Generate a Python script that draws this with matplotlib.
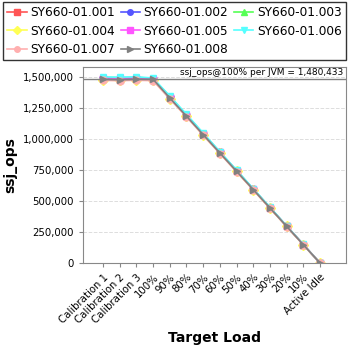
import numpy as np
import matplotlib.pyplot as plt
from matplotlib.ticker import FuncFormatter

categories = ["Calibration 1", "Calibration 2", "Calibration 3", "100%", "90%", "80%",
              "70%", "60%", "50%", "40%", "30%", "20%", "10%", "Active Idle"]

series_names = ["SY660-01.001", "SY660-01.002", "SY660-01.003", "SY660-01.004",
                "SY660-01.005", "SY660-01.006", "SY660-01.007", "SY660-01.008"]

s001 = [1481000, 1479000, 1482000, 1478000, 1331000, 1186000, 1036000, 888000, 741000, 592000, 444000, 296000, 148000, 0]
s002 = [1489000, 1487000, 1490000, 1483000, 1337000, 1190000, 1040000, 892000, 744000, 595000, 446000, 297000, 149000, 0]
s003 = [1496000, 1494000, 1497000, 1487000, 1341000, 1194000, 1043000, 894000, 746000, 597000, 448000, 298000, 149000, 0]
s004 = [1475000, 1472000, 1476000, 1474000, 1326000, 1181000, 1032000, 885000, 738000, 590000, 442000, 295000, 147000, 0]
s005 = [1492000, 1490000, 1493000, 1485000, 1339000, 1192000, 1042000, 893000, 745000, 596000, 447000, 298000, 149000, 0]
s006 = [1500000, 1498000, 1501000, 1491000, 1346000, 1199000, 1048000, 898000, 749000, 600000, 450000, 300000, 150000, 0]
s007 = [1472000, 1470000, 1473000, 1470000, 1322000, 1178000, 1029000, 882000, 735000, 588000, 441000, 294000, 147000, 0]
s008 = [1480000, 1478000, 1481000, 1480433, 1330000, 1184000, 1035000, 887000, 740000, 592000, 444000, 296000, 148000, 0]

series = [s001, s002, s003, s004, s005, s006, s007, s008]
colors = ["#FF5555", "#5555FF", "#55FF55", "#FFFF55", "#FF55FF", "#55FFFF", "#FFAFAF", "#808080"]
markers = ["s", "o", "^", "D", "s", "v", "o", ">"]

ref_value = 1480433

fig = plt.figure(figsize=(3.48, 3.48), dpi=100)
ax = fig.add_axes([83 / 348, 1 - 263 / 348, (346 - 83) / 348, (263 - 67) / 348])

x = np.arange(len(categories))
handles = []
for name, vals, c, m in zip(series_names, series, colors, markers):
    h, = ax.plot(x, vals, color=c, marker=m, markersize=5, linewidth=1.2, label=name)
    handles.append(h)

ax.axhline(ref_value, color="#808080", linewidth=1)
ax.text(14.4, ref_value + 20000, "ssj_ops@100% per JVM = 1,480,433", ha="right", va="bottom",
        fontsize=6.5, family="DejaVu Sans")

ax.set_xlim(-1.2, 14.56)
ax.set_ylim(0, 1580000)
ax.set_yticks([0, 250000, 500000, 750000, 1000000, 1250000, 1500000])
ax.yaxis.set_major_formatter(FuncFormatter(lambda v, p: f"{int(v):,}"))
ax.set_xticks(x)
ax.set_xticklabels(categories, rotation=45, ha="right", rotation_mode="anchor")
ax.tick_params(labelsize=7.3, length=3, color="#888888")
ax.grid(axis="y", color="#dddddd", linestyle="--", linewidth=0.7)
for sp in ax.spines.values():
    sp.set_color("#888888")

ax.set_ylabel("ssj_ops", fontsize=10, fontweight="bold")
ax.set_xlabel("Target Load", fontsize=10, fontweight="bold")

# legend fills row by row like the original
order = [0, 3, 6, 1, 4, 7, 2, 5]
leg = fig.legend(handles=[handles[i] for i in order], loc="upper left",
                 bbox_to_anchor=(3 / 348, 1 - 2 / 348, 343 / 348, 0), mode="expand",
                 ncol=3, fontsize=8.7, frameon=True, fancybox=False, handlelength=1.6,
                 handletextpad=0.3, columnspacing=0.4, borderpad=0.35, labelspacing=0.45,
                 markerscale=0.8, borderaxespad=0)
leg.get_frame().set_edgecolor("black")
leg.get_frame().set_linewidth(1)

fig.savefig("out.png", dpi=100)
